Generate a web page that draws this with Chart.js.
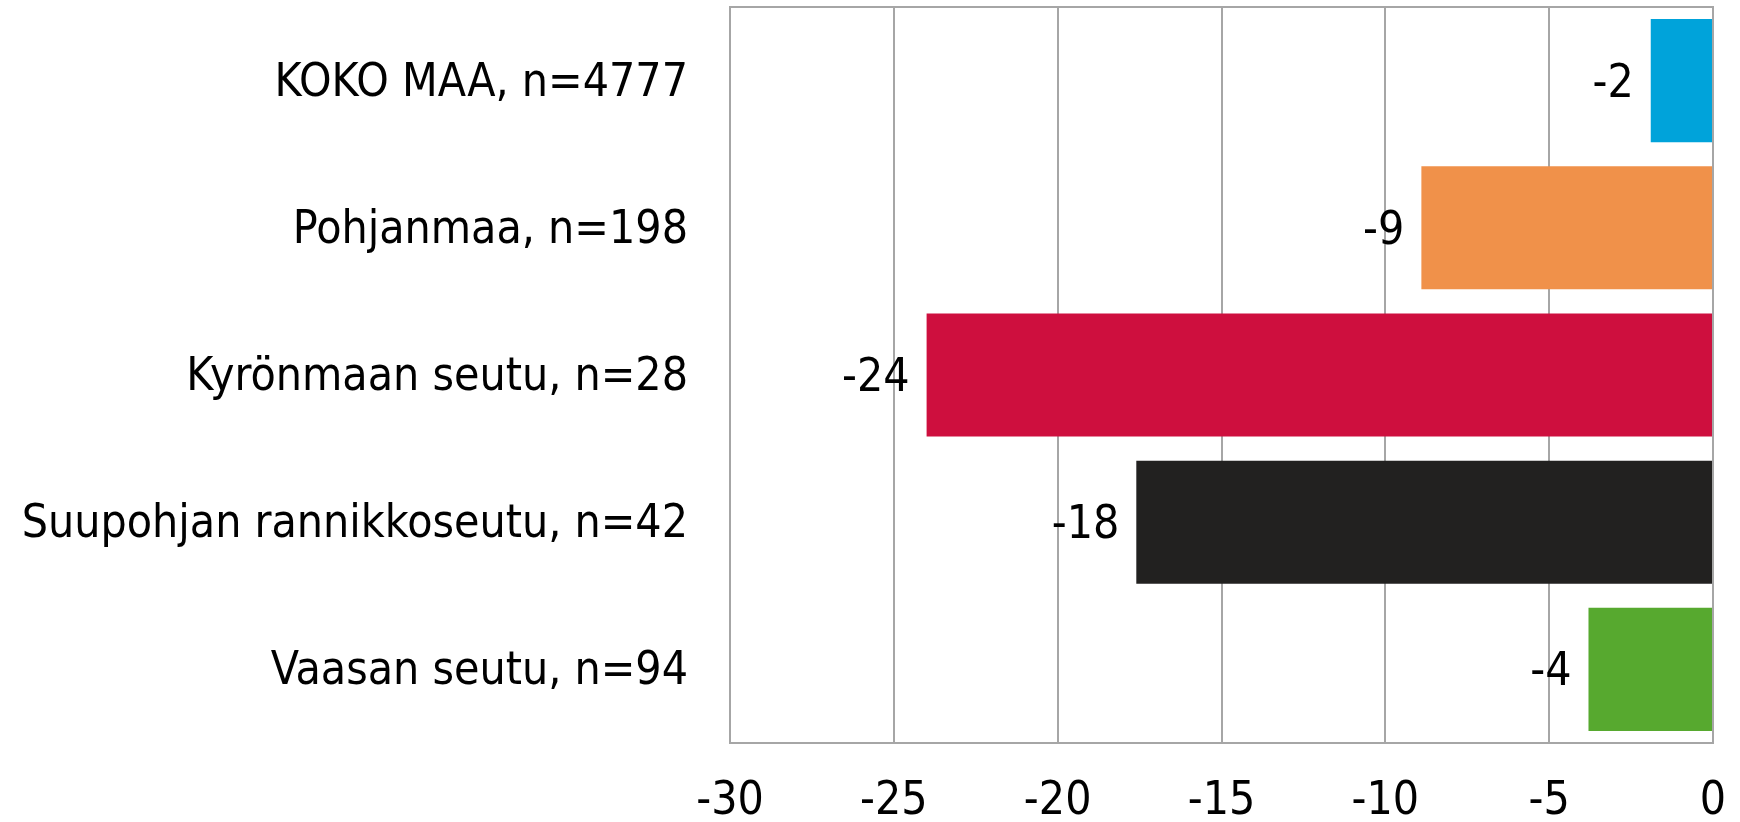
<!DOCTYPE html>
<html>
<head>
<meta charset="utf-8">
<script src="https://cdn.jsdelivr.net/npm/chart.js@4.4.0/dist/chart.umd.min.js"></script>
<style>
  html, body { margin: 0; padding: 0; background: #fff; overflow: hidden; }
  #wrap { width: 1740px; height: 860px; }
</style>
</head>
<body>
<div id="wrap"><canvas id="chart"></canvas></div>
<script>
// données
const categories = ["KOKO MAA, n=4777", "Pohjanmaa, n=198", "Kyrönmaan seutu, n=28", "Suupohjan rannikkoseutu, n=42", "Vaasan seutu, n=94"];
const values = [-1.9, -8.9, -24.0, -17.6, -3.8];
const barColors = ["#00a3da", "#f0914a", "#ce0f3e", "#222120", "#57a92f"];
const xMin = -30;
const xMax = 0;
const xStep = 5;

const fontFamily = "'DejaVu Sans Condensed', 'DejaVu Sans', sans-serif";
const clear = 'rgba(0,0,0,0)';

// cadre autour de la zone du graphique
const frame = {
  id: 'frame',
  afterDraw(chart) {
    const a = chart.chartArea;
    const ctx = chart.ctx;
    ctx.save();
    ctx.strokeStyle = '#a6a6a6';
    ctx.lineWidth = 2;
    ctx.strokeRect(a.left, a.top, a.right - a.left, a.bottom - a.top);
    ctx.restore();
  }
};

// étiquettes de valeur à gauche des barres
const valueLabels = {
  id: 'valueLabels',
  afterDatasetsDraw(chart) {
    const ctx = chart.ctx;
    const meta = chart.getDatasetMeta(0);
    ctx.save();
    ctx.font = "46px " + fontFamily;
    ctx.fillStyle = '#000';
    ctx.textAlign = 'right';
    ctx.textBaseline = 'middle';
    meta.data.forEach((bar, i) => {
      ctx.fillText(String(Math.round(values[i])), bar.x - 17, bar.y + 4);
    });
    ctx.restore();
  }
};

new Chart(document.getElementById('chart'), {
  type: 'bar',
  data: {
    labels: categories,
    datasets: [{
      data: values,
      backgroundColor: barColors,
      borderWidth: 0,
      barPercentage: 1,
      categoryPercentage: 0.836
    }]
  },
  options: {
    indexAxis: 'y',
    responsive: true,
    maintainAspectRatio: false,
    animation: false,
    layout: { padding: { top: 7, right: 27, bottom: 0, left: 0 } },
    plugins: {
      legend: { display: false },
      tooltip: { enabled: false }
    },
    scales: {
      x: {
        min: xMin,
        max: xMax,
        ticks: {
          stepSize: xStep,
          color: '#000',
          padding: 0,
          font: { family: fontFamily, size: 46 }
        },
        grid: { color: '#a6a6a6', lineWidth: 2, drawTicks: true, tickLength: 31, tickColor: clear },
        border: { display: false },
        afterFit(scale) { scale.height = 117; }
      },
      y: {
        ticks: {
          color: '#000',
          padding: 0,
          labelOffset: 3,
          font: { family: fontFamily, size: 46, lineHeight: 0.25 }
        },
        grid: { display: true, color: clear, drawTicks: true, tickLength: 42, tickColor: clear },
        border: { display: false },
        afterFit(scale) { scale.width = 730; }
      }
    }
  },
  plugins: [frame, valueLabels]
});
</script>
</body>
</html>
